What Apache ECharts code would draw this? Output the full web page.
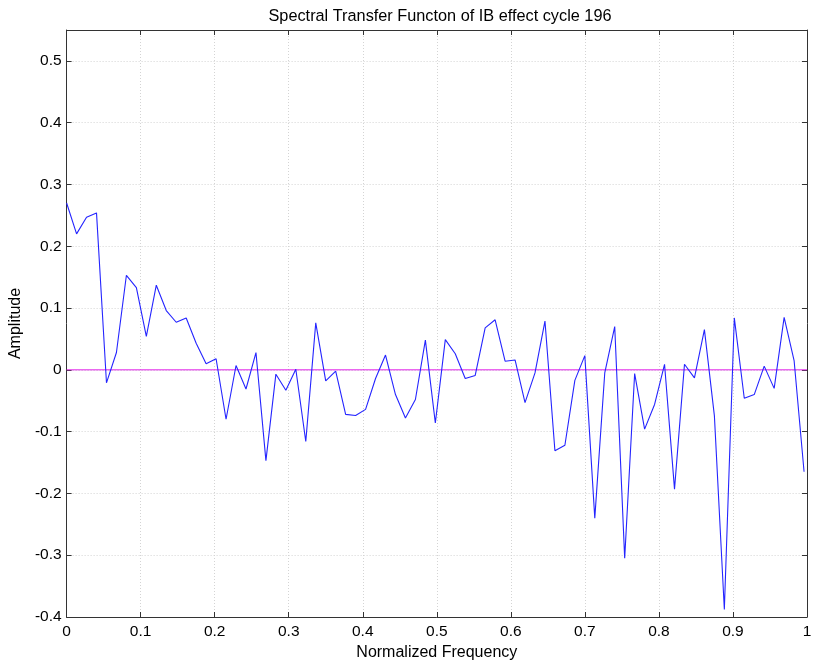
<!DOCTYPE html>
<html>
<head>
<meta charset="utf-8">
<script src="https://cdn.jsdelivr.net/npm/echarts@6/dist/echarts.min.js"></script>
<style>html,body{margin:0;padding:0;background:#fff}#c{width:816px;height:668px}</style>
</head>
<body>
<div id="c"></div>
<script>
const titleText = 'Spectral Transfer Functon of IB effect cycle 196';
const xName = 'Normalized Frequency';
const yName = 'Amplitude';
const freqStep = 0.01346;
const amplitude = [
  0.270, 0.220, 0.247, 0.254, -0.021, 0.028, 0.153, 0.133, 0.054, 0.137,
  0.096, 0.077, 0.084, 0.043, 0.010, 0.018, -0.080, 0.007, -0.031, 0.028,
  -0.147, -0.007, -0.033, 0.001, -0.116, 0.076, -0.018, -0.002, -0.072, -0.074,
  -0.064, -0.014, 0.024, -0.040, -0.078, -0.048, 0.048, -0.086, 0.049, 0.026,
  -0.014, -0.009, 0.068, 0.081, 0.014, 0.016, -0.053, -0.005, 0.079, -0.131,
  -0.122, -0.017, 0.023, -0.240, -0.005, 0.070, -0.305, -0.006, -0.096, -0.056,
  0.009, -0.193, 0.009, -0.013, 0.065, -0.074, -0.388, 0.084, -0.046, -0.040,
  0.006, -0.030, 0.085, 0.015, -0.165
];
const zeroLine = [[0, 0], [1, 0]];

const lineData = amplitude.map((v, i) => [i * freqStep, v]);
const font = 'Liberation Sans, Arial, sans-serif';
const chart = echarts.init(document.getElementById('c'), null, {renderer: 'canvas'});
const gridLine = {show: true, lineStyle: {color: '#d4d4d4', type: [1, 2], width: 1}};
const axLine = {show: true, onZero: false, lineStyle: {color: '#333'}};
const axTick = {show: true, inside: true, length: 5, lineStyle: {color: '#333'}};
const fmt = v => String(Math.round(v * 10) / 10);
chart.setOption({
  animation: false,
  backgroundColor: '#fff',
  title: {text: titleText, left: 435, textAlign: 'center', top: 4,
    textStyle: {fontFamily: font, fontSize: 16.3, fontWeight: 'normal', color: '#000'}},
  grid: {left: 65, right: 9, top: 30, bottom: 51, show: false},
  xAxis: [{
    type: 'value', min: 0, max: 1, interval: 0.1,
    name: xName, nameLocation: 'middle', nameGap: 28,
    nameTextStyle: {fontFamily: font, fontSize: 16, color: '#000'},
    axisLine: axLine, axisTick: axTick,
    axisLabel: {fontFamily: font, fontSize: 15.5, color: '#000', margin: 7, formatter: fmt},
    splitLine: gridLine
  }, {
    type: 'value', min: 0, max: 1, interval: 0.1, position: 'top',
    axisLine: axLine, axisTick: axTick,
    axisLabel: {show: false}, splitLine: {show: false}
  }],
  yAxis: [{
    type: 'value', min: -0.4, max: 0.55, interval: 0.1,
    name: yName, nameLocation: 'middle', nameGap: 40, nameRotate: 90,
    nameTextStyle: {fontFamily: font, fontSize: 16, color: '#000'},
    axisLine: axLine, axisTick: axTick,
    axisLabel: {fontFamily: font, fontSize: 15.5, color: '#000', margin: 5, showMaxLabel: false, formatter: fmt},
    splitLine: gridLine
  }, {
    type: 'value', min: -0.4, max: 0.55, interval: 0.1, position: 'right',
    axisLine: axLine, axisTick: axTick,
    axisLabel: {show: false}, splitLine: {show: false}
  }],
  series: [{
    type: 'line', data: zeroLine, showSymbol: false, silent: true,
    lineStyle: {color: '#e020e8', width: 1}
  }, {
    type: 'line', data: lineData, showSymbol: false,
    lineStyle: {color: '#2424ff', width: 1.1}
  }]
});
</script>
</body>
</html>
